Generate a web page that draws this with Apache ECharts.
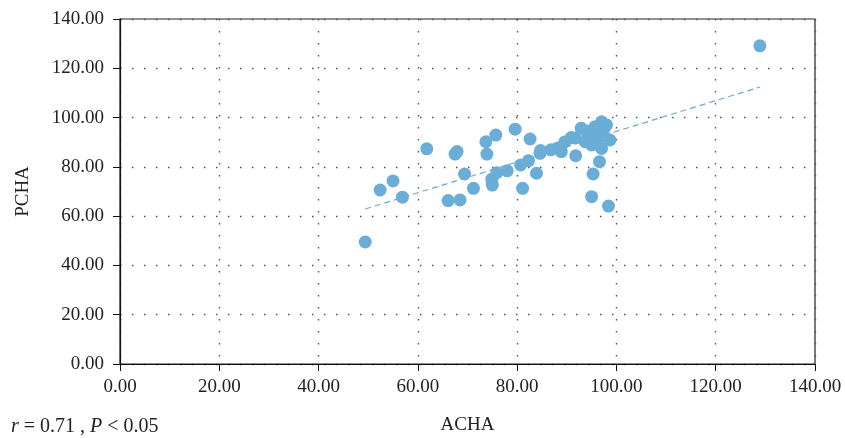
<!DOCTYPE html>
<html>
<head>
<meta charset="utf-8">
<script src="https://cdn.jsdelivr.net/npm/echarts@6/dist/echarts.min.js"></script>
<style>html,body{margin:0;padding:0;background:#fff}#c{width:845px;height:438px}</style>
</head>
<body>
<div id="c"></div>
<script>
const achaValues = [49.4,52.4,55.0,56.9,61.8,66.1,67.5,67.9,68.5,69.4,71.2,73.7,73.9,75.0,74.9,75.7,75.9,78.0,79.6,80.7,81.1,82.3,82.6,83.9,84.6,84.7,86.8,88.9,89.6,90.9,91.8,92.9,93.7,94.4,94.8,95.7,97.0,98.0,96.7,98.7,95.0,97.0,96.6,95.3,95.0,98.4,128.9,91.7,88.2,95.9,97.5,93.9];
const pchaValues = [49.5,70.6,74.3,67.7,87.3,66.3,85.2,86.2,66.6,77.1,71.3,90.2,85.2,72.6,75.0,92.9,77.6,78.4,95.3,80.8,71.3,82.5,91.3,77.4,85.5,86.6,86.9,86.2,90.1,91.9,84.5,95.7,90.2,92.9,93.8,96.3,98.3,97.0,92.2,90.9,88.9,87.5,82.1,77.1,67.9,64.1,129.1,91.7,87.7,90.9,95.4,94.6];
const trendX = [49.4, 128.9];
const trendY = [62.9, 112.4];
const tickVals = [0,20,40,60,80,100,120,140];
const annotation = ['r', ' = 0.71 , ', 'P', ' < 0.05'];

const pts = achaValues.map((x,i)=>[x,pchaValues[i]]);
const font = 'Liberation Serif';
const gridLine = {show:true, lineStyle:{color:'#555', width:1.4, type:[1.5,10.5]}};
const axisCommon = {
  min:0, max:140, interval:20,
  axisLine:{show:true, onZero:false, lineStyle:{color:'#111', width:1.2}},
  axisTick:{show:true, inside:false, length:7, lineStyle:{color:'#111'}},
  axisLabel:{color:'#222', fontFamily:font, fontSize:19, formatter:v=>v.toFixed(2)},
  splitLine:gridLine,
  nameTextStyle:{color:'#222', fontFamily:font, fontSize:19}
};
const chart = echarts.init(document.getElementById('c'));
chart.setOption({
  animation:false,
  title:{
    text:'{i|'+annotation[0]+'}'+annotation[1]+'{i|'+annotation[2]+'}'+annotation[3],
    left:6, top:412,
    textStyle:{fontFamily:font, fontSize:20, fontWeight:'normal', color:'#222',
      rich:{i:{fontStyle:'italic', fontFamily:font, fontSize:20, color:'#222'}}}
  },
  grid:{left:120, right:30, top:19, bottom:74, show:true, borderColor:'#222', borderWidth:1.2,
    containLabel:false, outerBoundsMode:'none'},
  xAxis:Object.assign({}, axisCommon, {type:'value', name:'ACHA', nameLocation:'middle', nameGap:52,
    axisLabel:Object.assign({}, axisCommon.axisLabel, {margin:14})}),
  yAxis:Object.assign({}, axisCommon, {type:'value', name:'PCHA', nameLocation:'middle', nameGap:87, nameRotate:90,
    axisLabel:Object.assign({}, axisCommon.axisLabel, {margin:16})}),
  series:[
    {type:'line', data:trendX.map((x,i)=>[x,trendY[i]]), symbol:'none', silent:true,
      lineStyle:{color:'#6aa9d6', width:1.2, type:[6,4]}, z:1},
    {type:'scatter', data:pts, symbolSize:13, itemStyle:{color:'#6aaed8', opacity:1}, z:2}
  ]
});
</script>
</body>
</html>
